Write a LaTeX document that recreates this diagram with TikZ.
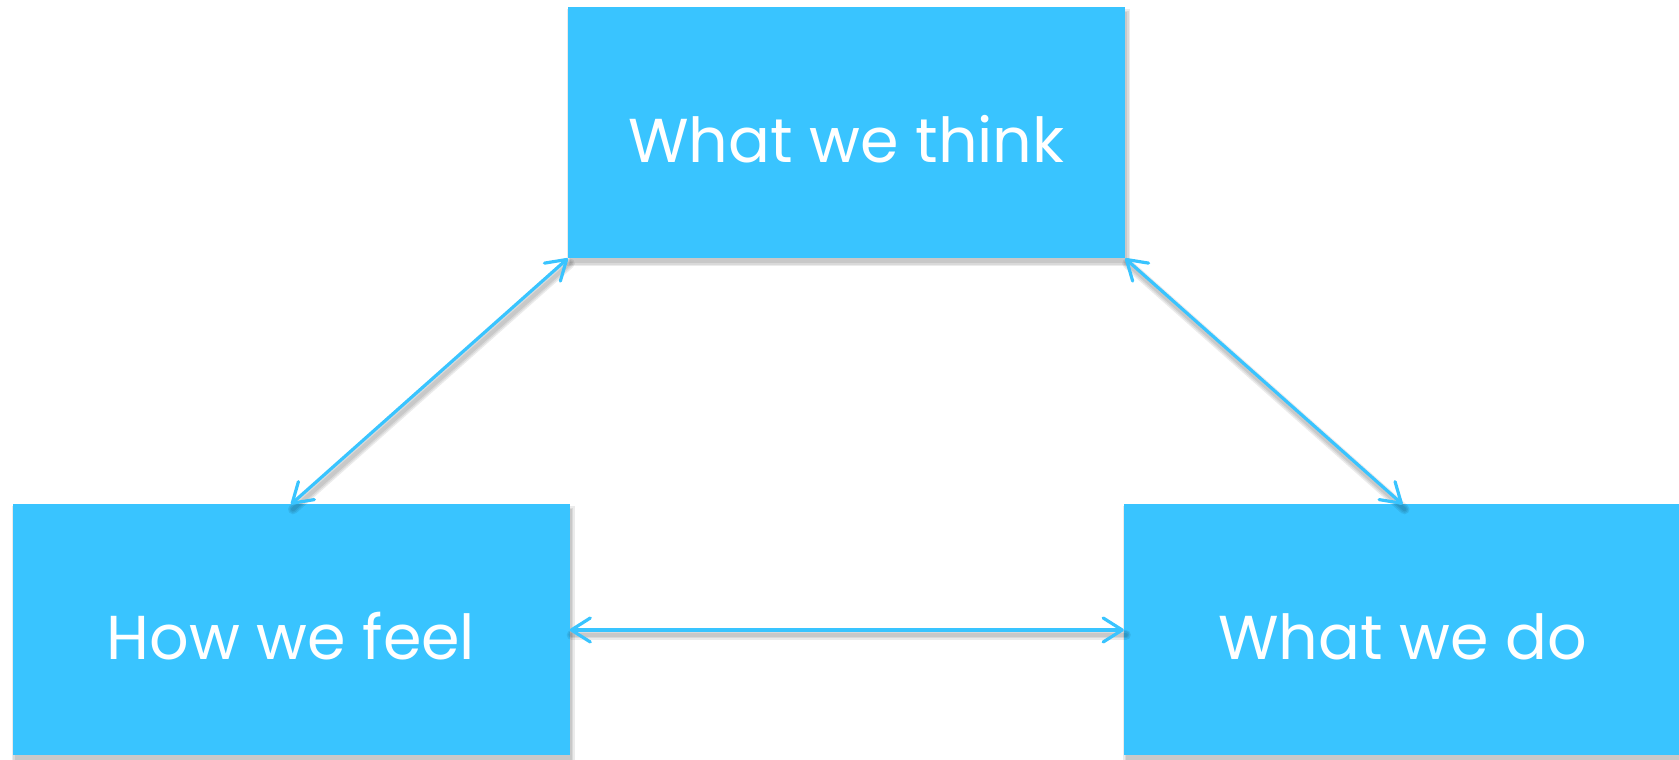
\documentclass[tikz,border=0pt]{standalone}
\usepackage{fontspec}
\setmainfont{Poppins}
\usetikzlibrary{arrows.meta}
\definecolor{boxblue}{RGB}{57,196,255}
\tikzset{
  box/.style={fill=boxblue, minimum width=557pt, minimum height=251pt, inner sep=0pt,
    text=white, font=\fontsize{62}{70}\selectfont, text height=60pt, text depth=0pt},
  boxshadow/.style={fill=black, opacity=0.08},
  link/.style={draw=boxblue, line width=3.2pt, line cap=round, {Straight Barb[length=19pt,width=24pt,line cap=round,line join=round]}-{Straight Barb[length=19pt,width=24pt,line cap=round,line join=round]}},
  linkshadow/.style={draw=black, opacity=0.08, line cap=round, transform canvas={xshift=2pt,yshift=-5pt}}
}
\begin{document}
\begin{tikzpicture}[x=1pt,y=1pt]
\useasboundingbox (0,0) rectangle (1679,760);
\clip (0,0) rectangle (1679,760);
% box shadows (soft, layered)
\foreach \c/\w in {846.5/627.25, 291/130, 1402.5/130}{
  \foreach \s in {0,1.5,3}{
    \fill[boxshadow] ({\c-278.5+2-\s},{\w-125.5-5-\s}) rectangle ({\c+278.5+2+\s},{\w+125.5-5+\s});
  }
}
\node[box] (think) at (846.5,627.25) {What we think};
\node[box] (feel) at (291,130) {How we feel};
\node[box] (do) at (1402.5,130) {What we do};
\foreach \lw in {4,7,10}{
  \draw[linkshadow, line width=\lw pt] (think.south west) -- (feel.north);
  \draw[linkshadow, line width=\lw pt] (think.south east) -- (do.north);
  \draw[linkshadow, line width=\lw pt] (feel.east) -- (do.west);
}
\draw[link] (think.south west) -- (feel.north);
\draw[link] (think.south east) -- (do.north);
\draw[link] (feel.east) -- (do.west);
\end{tikzpicture}
\end{document}
